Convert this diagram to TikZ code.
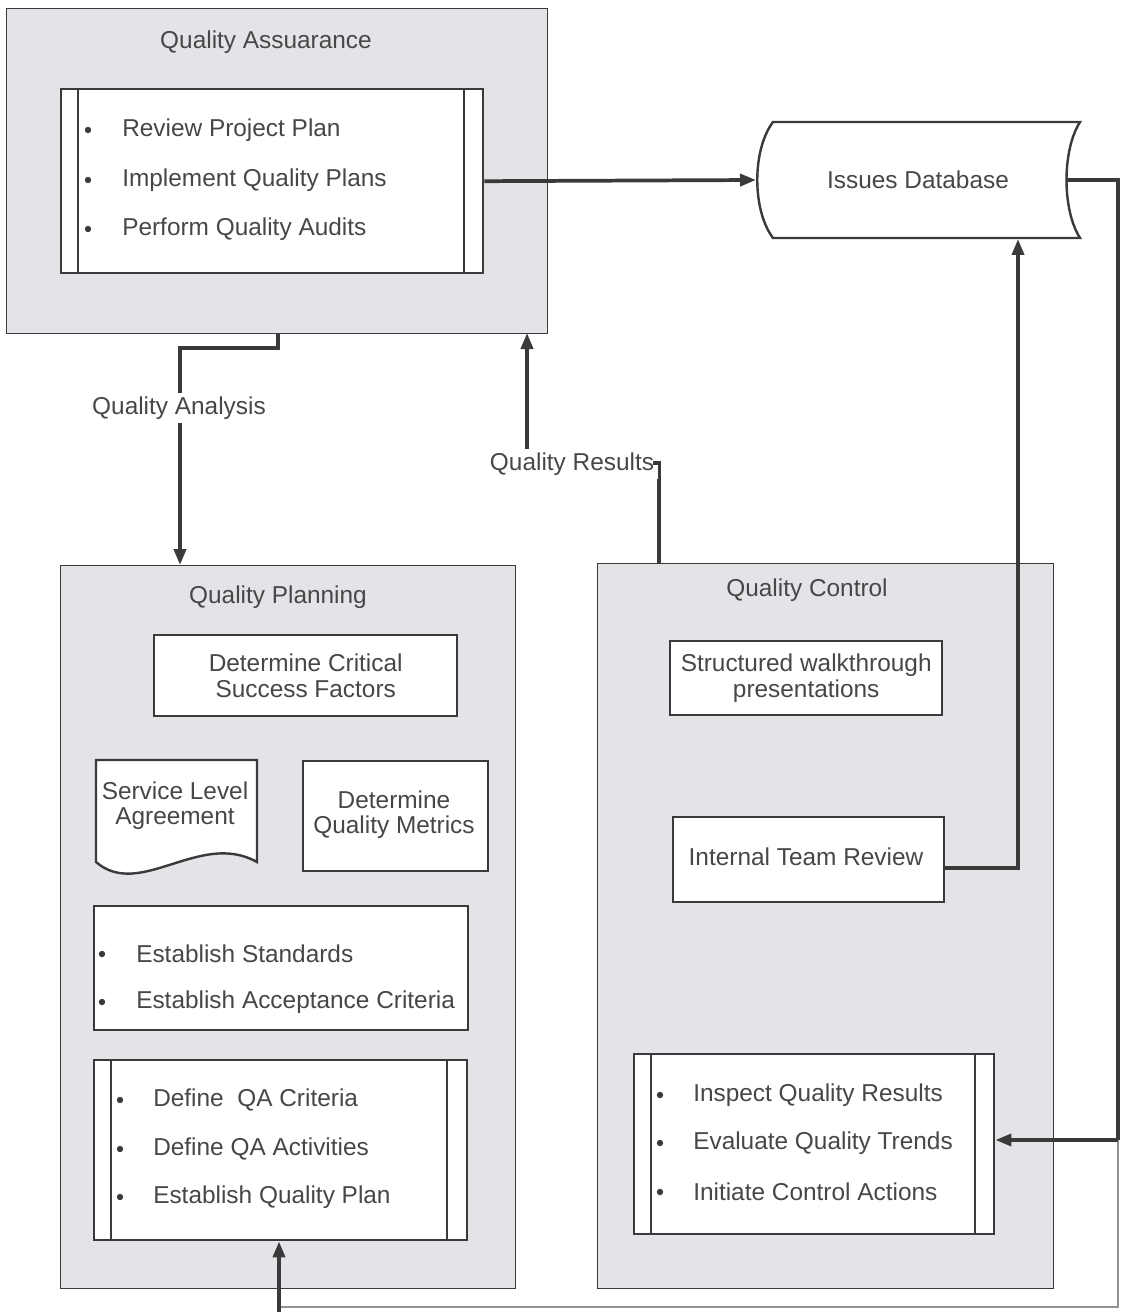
\documentclass[tikz,border=0pt]{standalone}
\usepackage{fontspec}
\setmainfont{Liberation Sans}
\usetikzlibrary{arrows.meta}
\definecolor{ink}{HTML}{3A3A3A}
\definecolor{panelgray}{HTML}{E4E4E8}
\definecolor{txt}{HTML}{474747}

\begin{document}
\begin{tikzpicture}[x=0.75pt,y=-0.75pt,
  font=\fontsize{18.3}{19}\selectfont, text=txt,
  sz/.style 2 args={minimum width=#1*0.75pt, minimum height=#2*0.75pt, inner sep=0pt},
  panel/.style={draw=ink, fill=panelgray, line width=1.1pt},
  box/.style={draw=ink, fill=white, line width=1.8pt},
  rule/.style={draw=ink, line width=1.1pt},
  conn/.style={draw=ink, line width=2.8pt},
  faint/.style={draw=ink!55, line width=1.8pt},
  tip/.style={-{Triangle[length=12pt,width=9pt]}},
  lbl/.style={fill=white, inner sep=3pt},
  two/.style={align=center},
  item/.style={anchor=west, inner sep=0pt},
  dot/.style={fill=ink}
]
\useasboundingbox (0,0) rectangle (1121,1312);
\fill[white] (0,0) rectangle (1121,1312);

% ---------- Quality Assurance panel ----------
\node[panel, sz={541}{325}, anchor=north west] (qa) at (6,8) {};
\node (qatitle) at (266,42) {Quality Assuarance};
\node[box, sz={422}{184}, anchor=north west] (qalist) at (60,88) {};
\draw[rule] (78,88) -- (78,272) (464,88) -- (464,272);
\foreach \y in {130,180,229} \fill[dot] (88,\y) circle (2.4pt);
\node[item] (qa1) at (122,130) {Review Project Plan};
\node[item] (qa2) at (122,180) {Implement Quality Plans};
\node[item] (qa3) at (122,229) {Perform Quality Audits};

% ---------- Issues database (stored data symbol) ----------
\filldraw[fill=white, draw=ink, line width=1.8pt]
  (773,122) -- (1080,122)
  .. controls (1062,150) and (1062,210) .. (1080,238)
  -- (773,238)
  .. controls (752,210) and (752,150) .. cycle;
\node (db) at (918,180) {Issues Database};
\coordinate (dbin) at (756,180);
\coordinate (dbout) at (1066,180);
\coordinate (dbbot) at (1018,239);

% ---------- Quality Planning panel ----------
\node[panel, sz={455}{723}, anchor=north west] (qp) at (60,565) {};
\node (qptitle) at (278,597) {Quality Planning};
\node[box, sz={303}{81}, anchor=north west] (csf) at (153,634) {};
\node[two] (csft) at (csf.center) {Determine Critical\\Success Factors};
% document shape
\filldraw[fill=white, draw=ink, line width=1.8pt]
  (96,760) -- (257,760) -- (257,862)
  .. controls (200,830) and (140,900) .. (96,862) -- cycle;
\node[two] (sla) at (175,806) {Service Level\\Agreement};
\node[box, sz={185}{110}, anchor=north west] (dqm) at (302,760) {};
\node[two] (dqmt) at (394,815) {Determine\\Quality Metrics};
\node[box, sz={374}{124}, anchor=north west] (std) at (93,905) {};
\foreach \y in {954,1002} \fill[dot] (102,\y) circle (2.4pt);
\node[item] (std1) at (136,954) {Establish Standards};
\node[item] (std2) at (136,1002) {Establish Acceptance Criteria};
\node[box, sz={373}{180}, anchor=north west] (qplist) at (93,1059) {};
\draw[rule] (111,1059) -- (111,1239) (447,1059) -- (447,1239);
\foreach \y in {1100,1149,1197} \fill[dot] (120,\y) circle (2.4pt);
\node[item] (qp1) at (153,1100) {Define\ \ QA Criteria};
\node[item] (qp2) at (153,1149) {Define QA Activities};
\node[item] (qp3) at (153,1197) {Establish Quality Plan};

% ---------- Quality Control panel ----------
\node[panel, sz={456}{725}, anchor=north west] (qc) at (597,563) {};
\node (qctitle) at (807,590) {Quality Control};
\node[box, sz={272}{74}, anchor=north west] (swp) at (669,640) {};
\node[two] (swpt) at (swp.center) {Structured walkthrough\\presentations};
\node[box, sz={271}{85}, anchor=north west] (itr) at (672,816) {};
\node (itrt) at (806,857) {Internal Team Review};
\node[box, sz={360}{180}, anchor=north west] (qclist) at (633,1053) {};
\draw[rule] (651,1053) -- (651,1233) (975,1053) -- (975,1233);
\foreach \y in {1095,1143,1192} \fill[dot] (660,\y) circle (2.4pt);
\node[item] (qc1) at (693,1095) {Inspect Quality Results};
\node[item] (qc2) at (693,1143) {Evaluate Quality Trends};
\node[item] (qc3) at (693,1192) {Initiate Control Actions};

% ---------- connectors ----------
\draw[conn, tip] (qalist.east) -- (dbin);
\draw[conn] (dbout) -- (1118,180) coordinate (rt) -- (1118,1140) coordinate (rb);
\draw[faint] (rb) -- (1118,1307) -- (279,1307);
\draw[conn, tip] (279,1312) -- (qplist.south -| 279,0);
\draw[conn, tip] (rb) -- (qclist.east |- rb);
\draw[conn, tip] (itr.east |- 0,868) -- (1018,868) -- (dbbot);

% Quality Analysis
\draw[conn, tip] (278,333) -- (278,348) -- (180,348) -- (180,565);
\node[lbl] (qalabel) at (179,408) {Quality Analysis};

% Quality Results
\draw[conn, tip] (659,563) -- (659,463) -- (527,463) -- (527,333);
\node[lbl] (qrlabel) at (572,464) {Quality Results};
\draw[conn] (659,463) -- (653,463);
\end{tikzpicture}
\end{document}
